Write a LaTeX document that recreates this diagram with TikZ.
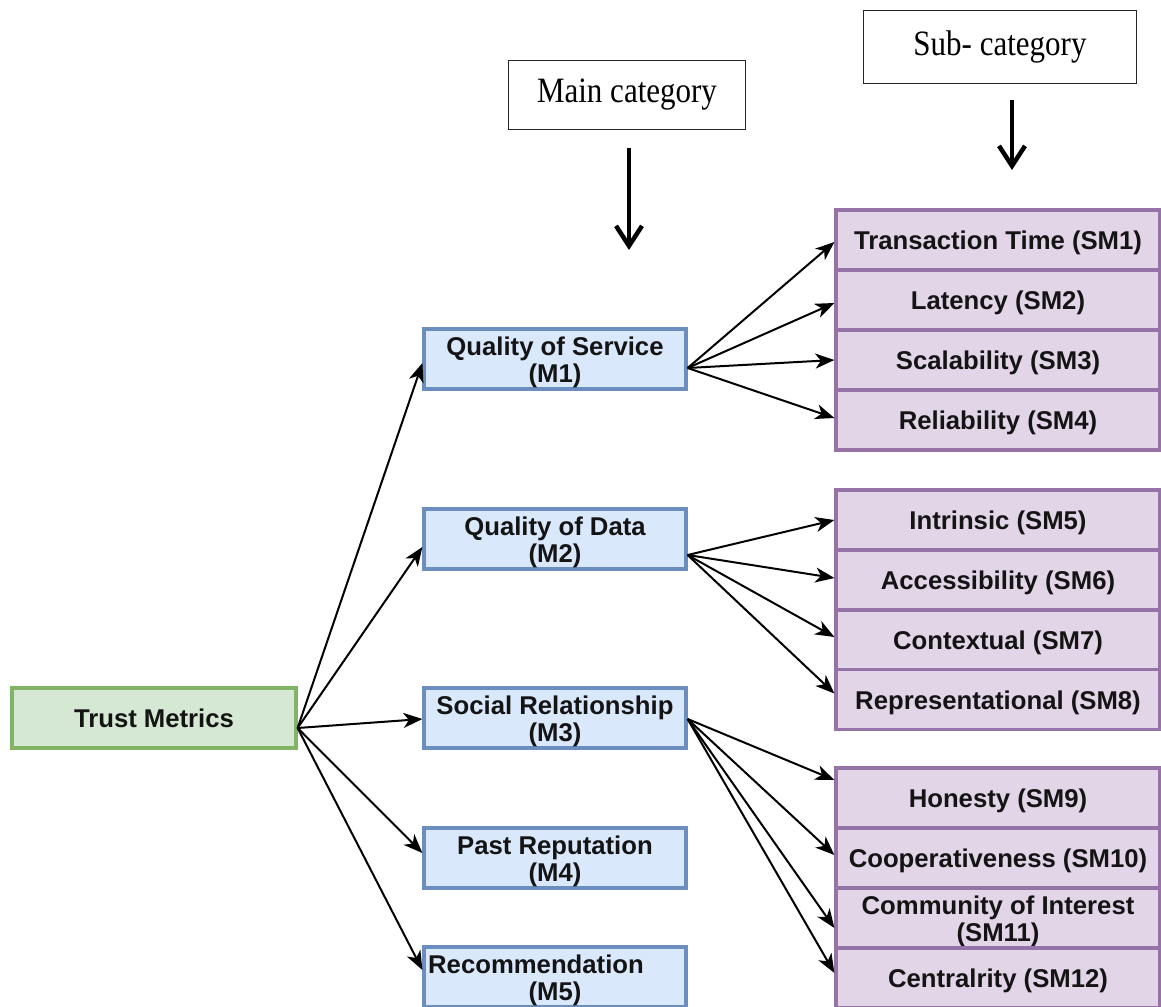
\documentclass[tikz,border=0pt]{standalone}
\usepackage{fontspec}
\usepackage{graphicx}
\setmainfont{Liberation Sans}
\newfontfamily\serifhead{Liberation Serif}
\usetikzlibrary{arrows.meta}
\definecolor{tmfill}{HTML}{D5E8D4}
\definecolor{tmdraw}{HTML}{82B366}
\definecolor{mfill}{HTML}{DAE8FC}
\definecolor{mdraw}{HTML}{6C8EBF}
\definecolor{smfill}{HTML}{E1D5E7}
\definecolor{smdraw}{HTML}{9673A6}
\newcommand\Sa{\rule{0pt}{25.6pt}}
\newcommand\Sb{\rule[-6pt]{0pt}{0pt}}
\newcommand\Hx[1]{\scalebox{1}[1.15]{#1}}
\begin{document}
\begin{tikzpicture}[x=1pt,y=-1pt,
  base/.style={rectangle, line width=3.2pt, inner xsep=0pt, inner ysep=-5pt,
    align=center, minimum height=60pt, text=black!92,
    font=\fontsize{25.7}{27}\selectfont\bfseries},
  tmbox/.style={base, fill=tmfill, draw=tmdraw, minimum width=284pt},
  mbox/.style={base, fill=mfill, draw=mdraw, minimum width=262pt},
  smbox/.style={base, fill=smfill, draw=smdraw, minimum width=324pt},
  hbox/.style={rectangle, draw=black!85, line width=0.9pt, inner sep=0pt,
    font=\serifhead\fontsize{31}{33}\selectfont},
  conn/.style={-{Stealth[length=19pt,width=15pt,inset=5.5pt]}, line width=2pt},
  hdarrow/.style={-{Straight Barb[length=20pt,width=26pt]}, line width=4.5pt}]
\useasboundingbox (0,0) rectangle (1161,1006);

% header boxes
\node[hbox, minimum width=237pt, minimum height=69pt] (hmain) at (627,95) {\Hx{Main category}};
\node[hbox, minimum width=273pt, minimum height=73pt] (hsub) at (1000,46.5) {\Hx{Sub- category}};
\coordinate (a1s) at (629,148);
\coordinate (a1e) at (629,250);
\coordinate (a2s) at (1012,100);
\coordinate (a2e) at (1012,170);
\draw[hdarrow] (a1s) -- (a1e);
\draw[hdarrow] (a2s) -- (a2e);

% root
\node[tmbox] (tm) at (154,718) {\Sa\Sb Trust Metrics};

% main categories
\node[mbox] (m1) at (555,359) {\Sa Quality of Service\\\Sb(M1)};
\node[mbox] (m2) at (555,539) {\Sa Quality of Data\\\Sb(M2)};
\node[mbox] (m3) at (555,718) {\Sa Social Relationship\\\Sb(M3)};
\node[mbox] (m4) at (555,858) {\Sa Past Reputation\\\Sb(M4)};
\node[mbox] (m5) at (555,977) {\Sa Recommendation\hspace*{38pt}\\\Sb(M5)};

% sub categories
\node[smbox] (sm1) at (998,240) {\Sa\Sb Transaction Time (SM1)};
\node[smbox] (sm2) at (998,300) {\Sa\Sb Latency (SM2)};
\node[smbox] (sm3) at (998,360) {\Sa\Sb Scalability (SM3)};
\node[smbox] (sm4) at (998,420) {\Sa\Sb Reliability (SM4)};
\node[smbox] (sm5) at (998,520) {\Sa\Sb Intrinsic (SM5)};
\node[smbox] (sm6) at (998,580) {\Sa\Sb Accessibility (SM6)};
\node[smbox] (sm7) at (998,640) {\Sa\Sb Contextual (SM7)};
\node[smbox] (sm8) at (998,699.5) {\Sa\Sb Representational (SM8)};
\node[smbox] (sm9) at (998,798) {\Sa\Sb Honesty (SM9)};
\node[smbox] (sm10) at (998,858) {\Sa\Sb Cooperativeness (SM10)};
\node[smbox] (sm11) at (998,918) {\Sa Community of Interest\\\Sb(SM11)};
\node[smbox] (sm12) at (998,978) {\Sa\Sb Centralrity (SM12)};

% root connectors
\draw[conn] ([yshift=-10pt]tm.east) -- ([yshift=-4pt]m1.west);
\draw[conn] ([yshift=-10pt]tm.east) -- ([yshift=-8pt]m2.west);
\draw[conn] ([yshift=-10pt]tm.east) -- ([yshift=-1pt]m3.west);
\draw[conn] ([yshift=-10pt]tm.east) -- ([yshift=5pt]m4.west);
\draw[conn] ([yshift=-10pt]tm.east) -- ([yshift=7pt]m5.west);

% M1 connectors
\draw[conn] ([yshift=-9pt]m1.east) -- ([yshift=-2pt]sm1.west);
\draw[conn] ([yshift=-9pt]m1.east) -- ([yshift=-3pt]sm2.west);
\draw[conn] ([yshift=-9pt]m1.east) -- (sm3.west);
\draw[conn] ([yshift=-9pt]m1.east) -- ([yshift=2pt]sm4.west);

% M2 connectors
\draw[conn] ([yshift=-16pt]m2.east) -- (sm5.west);
\draw[conn] ([yshift=-16pt]m2.east) -- ([yshift=2pt]sm6.west);
\draw[conn] ([yshift=-16pt]m2.east) -- ([yshift=3pt]sm7.west);
\draw[conn] ([yshift=-16pt]m2.east) -- ([yshift=6pt]sm8.west);

% M3 connectors
\draw[conn] ([yshift=-1pt]m3.east) -- ([yshift=18pt]sm9.west);
\draw[conn] ([yshift=-1pt]m3.east) -- ([yshift=3pt]sm10.west);
\draw[conn] ([yshift=-1pt]m3.east) -- ([yshift=-10pt]sm11.west);
\draw[conn] ([yshift=-1pt]m3.east) -- ([yshift=5pt]sm12.west);
\end{tikzpicture}
\end{document}
